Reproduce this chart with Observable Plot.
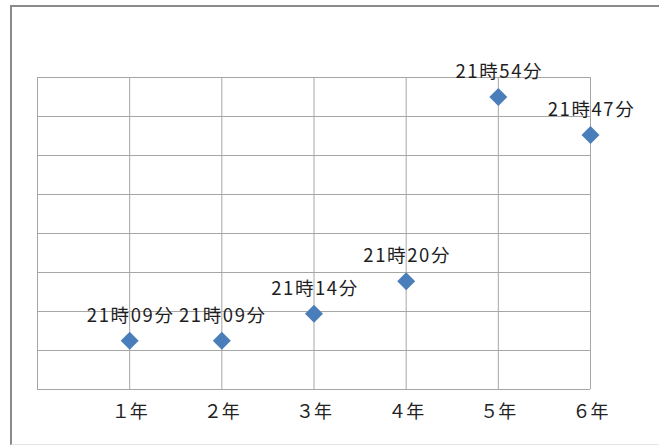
<!DOCTYPE html>
<html><head><meta charset="utf-8">
<script src="https://cdn.jsdelivr.net/npm/d3@7"></script>
<script src="https://cdn.jsdelivr.net/npm/@observablehq/plot@0.6"></script>
<style>
html,body{margin:0;padding:0;background:#fff;overflow:hidden;}
#wrap{position:relative;width:659px;height:445px;}
#chart{position:absolute;left:0;top:0;}
#frame{position:absolute;left:10px;top:5px;width:700px;height:437px;border-top:2px solid #8a8a8a;border-left:2px solid #8a8a8a;border-bottom:1px solid #e4e4e4;pointer-events:none;}
.vlabel text{letter-spacing:1.6px;}
</style></head><body><div id="wrap"><div id="chart"></div><div id="frame"></div></div>
<script>
// Categories (x)
const years = ["１年", "２年", "３年", "４年", "５年", "６年"];
// Values: time of day (hour, minute)
const hours = [21, 21, 21, 21, 21, 21];
const minutes = [9, 9, 14, 20, 54, 47];
// Y axis (minutes after 21:00): Excel axis 0.875–0.915 day, major unit 0.005 day
const yMin = 0;
const yMax = 57.6;
const yStep = 7.2;

const data = years.map((y, i) => ({
  year: y,
  pos: i + 1,
  min: minutes[i],
  label: `${hours[i]}時${String(minutes[i]).padStart(2, "0")}分`
}));

const gridStyle = {stroke: "#a6a6a6", strokeOpacity: 1, strokeWidth: 1};

const chart = Plot.plot({
  width: 659,
  height: 445,
  marginLeft: 37,
  marginRight: 69,
  marginTop: 77,
  marginBottom: 56,
  style: {background: "transparent", fontFamily: "'Noto Sans CJK JP', sans-serif"},
  x: {type: "linear", domain: [0, years.length], axis: null},
  y: {type: "linear", domain: [yMin, yMax], axis: null},
  marks: [
    Plot.gridX(d3.range(0, years.length + 1), gridStyle),
    Plot.gridY(d3.range(0, Math.round((yMax - yMin) / yStep) + 1).map(i => yMin + i * yStep), gridStyle),
    Plot.axisX(d3.range(1, years.length + 1), {
      tickSize: 0, tickPadding: 16, tickFormat: d => years[d - 1], label: null,
      fontSize: 18, fill: "#222", fontFamily: "'Noto Sans CJK JP', sans-serif"
    }),
    Plot.dot(data, {x: "pos", y: "min", symbol: "diamond2", r: 8.1, fill: "#4a7ebb", stroke: null}),
    Plot.text(data, {x: "pos", y: "min", text: "label", dy: -25, dx: 1, fontSize: 18.5, fill: "#1e1e1e",
      fontFamily: "'Noto Sans CJK JP', sans-serif", className: "vlabel"})
  ]
});
document.getElementById("chart").appendChild(chart);
</script></body></html>
